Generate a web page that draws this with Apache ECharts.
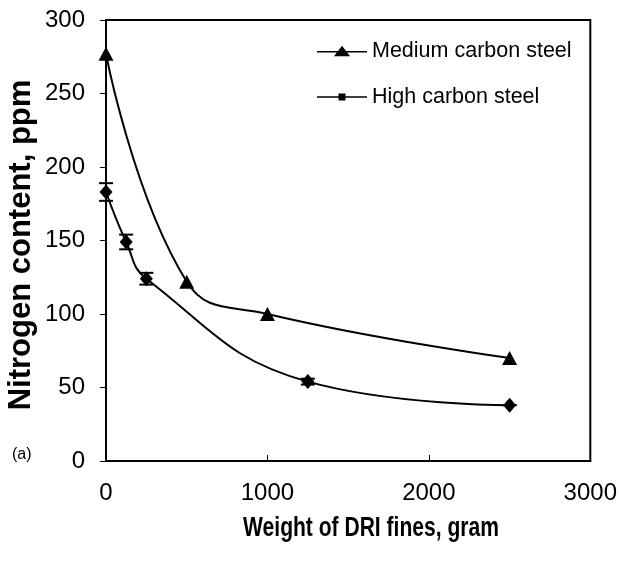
<!DOCTYPE html>
<html>
<head>
<meta charset="utf-8">
<script src="https://cdn.jsdelivr.net/npm/echarts@6/dist/echarts.min.js"></script>
<style>
  html, body { margin: 0; padding: 0; background: #ffffff; }
  #chart { width: 620px; height: 569px; }
</style>
</head>
<body>
<div id="chart"></div>
<script>
// Nitrogen pick-up vs. amount of DRI fines added
const mediumX = [0, 500, 1000, 2500];
const mediumN = [277, 122, 100, 70];
const highX = [0, 125, 250, 1250, 2500];
const highN = [183, 149, 124, 54, 38];
const highErr = [6, 5, 4, 2, 0];
const seriesNames = ['Medium carbon steel', 'High carbon steel'];
const xTitle = 'Weight of DRI fines, gram';
const yTitle = 'Nitrogen content, ppm';
const panelTag = '(a)';

const pairs = (xs, ys) => xs.map((x, i) => [x, ys[i]]);
const errRows = highX.map((x, i) => [x, highN[i] - highErr[i], highN[i] + highErr[i]]);

const font = "'Liberation Sans', Arial, sans-serif";

const chart = echarts.init(document.getElementById('chart'), null, { renderer: 'canvas' });

chart.setOption({
  animation: false,
  backgroundColor: '#ffffff',
  grid: { left: 106, right: 28, top: 20, bottom: 108, show: true, borderColor: '#000', borderWidth: 2, backgroundColor: 'transparent' },
  legend: {
    orient: 'vertical',
    left: 312,
    top: 35,
    itemWidth: 50,
    itemHeight: 12,
    itemGap: 24,
    symbolKeepAspect: true,
    textStyle: { fontFamily: font, fontSize: 21.5, color: '#000' },
    data: [
      { name: seriesNames[0], icon: 'path://M0,6.2 L21,6.2 L25,1 L29,6.2 L50,6.2 L50,7.8 L30.2,7.8 L33,11.5 L17,11.5 L19.8,7.8 L0,7.8 Z' },
      { name: seriesNames[1], icon: 'path://M0,5.2 L21.5,5.2 L21.5,2.5 L28.5,2.5 L28.5,5.2 L50,5.2 L50,6.8 L28.5,6.8 L28.5,9.5 L21.5,9.5 L21.5,6.8 L0,6.8 Z' }
    ]
  },
  xAxis: {
    type: 'value',
    min: 0, max: 3000, interval: 1000,
    axisLine: { lineStyle: { color: '#000', width: 2 } },
    axisTick: { inside: true, length: 6, lineStyle: { color: '#000', width: 1 } },
    axisLabel: { fontFamily: font, fontSize: 24, color: '#000', margin: 20, formatter: v => String(v) },
    splitLine: { show: false }
  },
  yAxis: {
    type: 'value',
    min: 0, max: 300, interval: 50,
    axisLine: { lineStyle: { color: '#000', width: 2 } },
    axisTick: { length: 6, lineStyle: { color: '#000', width: 1 } },
    axisLabel: { fontFamily: font, fontSize: 24, color: '#000', margin: 21, formatter: v => String(v) },
    splitLine: { show: false }
  },
  graphic: [
    { type: 'text', x: 12, y: 447, style: { text: panelTag, fontFamily: font, fontSize: 16, fill: '#000' } },
    {
      type: 'text', x: 371, y: 529, scaleX: 0.78,
      style: { text: xTitle, fontFamily: font, fontWeight: 'bold', fontSize: 27, fill: '#000', align: 'center', verticalAlign: 'middle' }
    },
    {
      type: 'text', x: 21, y: 245, rotation: Math.PI / 2,
      style: { text: yTitle, fontFamily: font, fontWeight: 'bold', fontSize: 31, fill: '#000', align: 'center', verticalAlign: 'middle' }
    }
  ],
  series: [
    {
      name: seriesNames[0],
      type: 'line',
      data: pairs(mediumX, mediumN),
      smooth: 0.45,
      symbol: 'triangle',
      symbolSize: [15, 14],
      lineStyle: { color: '#000', width: 2 },
      itemStyle: { color: '#000' },
      z: 3
    },
    {
      name: seriesNames[1],
      type: 'line',
      data: pairs(highX, highN),
      smooth: 0.45,
      symbol: 'diamond',
      symbolSize: [13, 15],
      lineStyle: { color: '#000', width: 2 },
      itemStyle: { color: '#000' },
      z: 3
    },
    {
      name: 'err',
      type: 'custom',
      data: errRows,
      z: 4,
      renderItem: function (params, api) {
        const x = api.value(0);
        const lo = api.coord([x, api.value(1)]);
        const hi = api.coord([x, api.value(2)]);
        const half = 7;
        const st = { stroke: '#000', lineWidth: 2 };
        return {
          type: 'group',
          children: [
            { type: 'line', shape: { x1: lo[0], y1: lo[1], x2: hi[0], y2: hi[1] }, style: st },
            { type: 'line', shape: { x1: lo[0] - half, y1: lo[1], x2: lo[0] + half, y2: lo[1] }, style: st },
            { type: 'line', shape: { x1: hi[0] - half, y1: hi[1], x2: hi[0] + half, y2: hi[1] }, style: st }
          ]
        };
      }
    }
  ]
});
</script>
</body>
</html>
